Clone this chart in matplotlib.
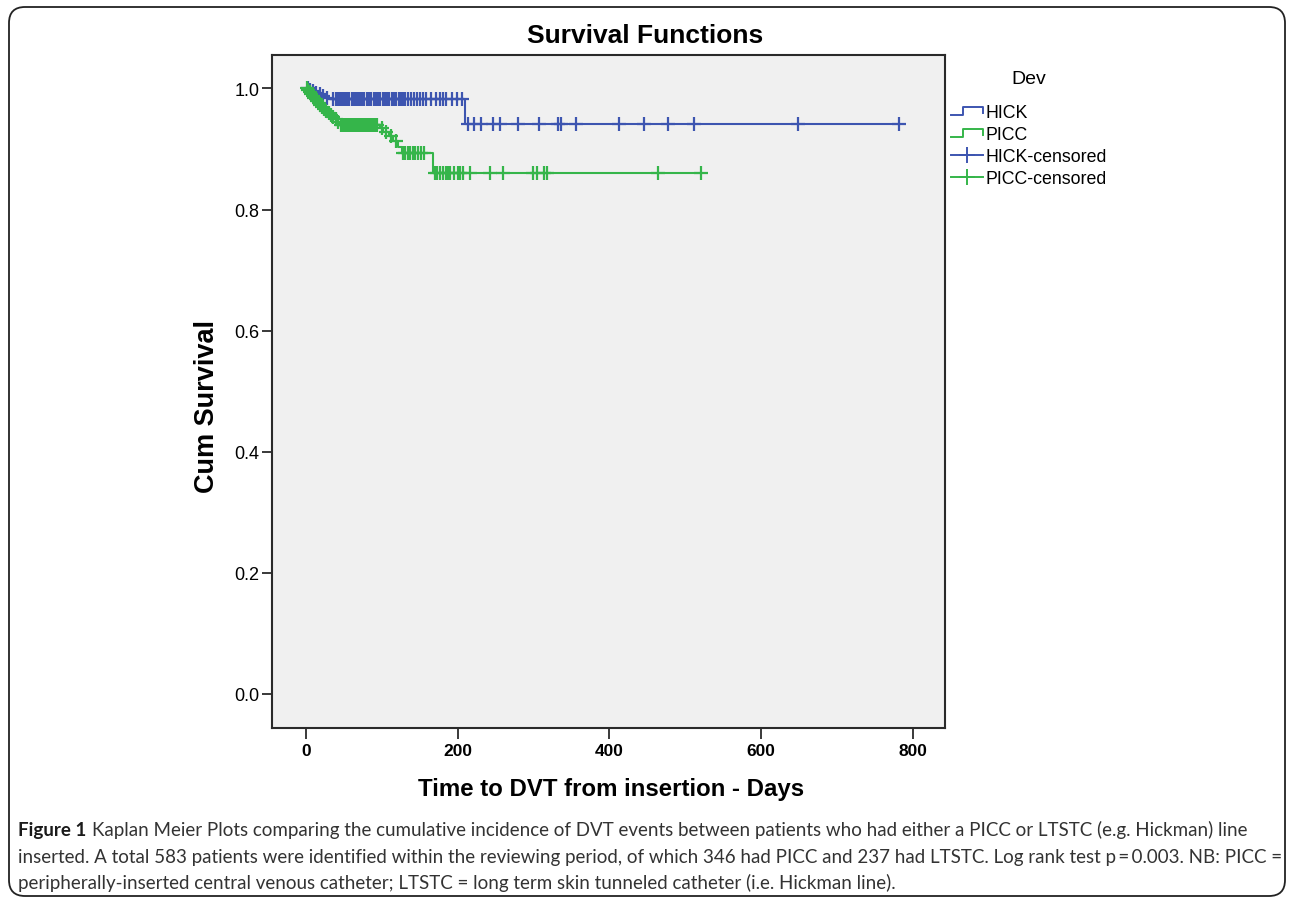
import numpy as np
import matplotlib
matplotlib.use("Agg")
import matplotlib.pyplot as plt
from matplotlib import font_manager
from matplotlib.lines import Line2D
from matplotlib.legend_handler import HandlerBase
from matplotlib.patches import FancyBboxPatch
from matplotlib.transforms import IdentityTransform

# ---------------- data ----------------
group_names = ["HICK", "PICC"]

hick_event_days = [0, 3, 7, 11, 15, 20, 26, 33, 210]
hick_event_surv = [1.000, 0.998, 0.996, 0.993, 0.991, 0.988, 0.985, 0.982, 0.941]
hick_censor_days = [2, 5, 9, 13, 18, 23, 28,
                    36, 39, 41, 44, 46, 49, 52, 54, 57, 60, 63, 66, 68, 71, 74, 77,
                    80, 83, 86, 89, 92, 95, 98, 101, 104, 107, 110, 113, 116, 119,
                    122, 125, 128, 131, 134, 138, 142, 146, 150, 154, 158, 165, 172,
                    176, 181, 185, 192, 199, 205,
                    214, 222, 231, 246, 256, 279, 307, 332, 336, 356, 412, 446, 477,
                    512, 648, 782]

picc_event_days = [0, 2, 4, 6, 8, 10, 12, 14, 16, 18, 20, 23, 26, 29, 32, 35, 38, 41, 44,
                   97, 102, 110, 115, 121, 126, 168]
picc_event_surv = [1.000, 0.997, 0.994, 0.991, 0.988, 0.985, 0.982, 0.979, 0.976, 0.972,
                   0.969, 0.966, 0.963, 0.960, 0.957, 0.953, 0.949, 0.945, 0.939,
                   0.934, 0.928, 0.921, 0.913, 0.903, 0.893, 0.861]
picc_censor_days = [1, 3, 5, 7, 9, 11, 13, 15, 17, 19, 21, 24, 27, 30, 33, 36, 39, 42,
                    46, 48, 50, 52, 54, 56, 58, 60, 62, 64, 66, 68, 70, 72, 74, 76, 78,
                    80, 82, 84, 86, 88, 90, 92, 94,
                    100, 106, 112, 118,
                    128, 131, 134, 137, 141, 144, 148, 152, 155,
                    170, 173, 176, 180, 184, 187, 190, 195, 200, 203, 207, 216, 242,
                    259, 299, 304, 314, 317, 464, 521]

x_ticks = [0, 200, 400, 600, 800]
y_ticks = [0.0, 0.2, 0.4, 0.6, 0.8, 1.0]

title_text = "Survival Functions"
xlabel_text = "Time to DVT from insertion - Days"
ylabel_text = "Cum Survival"
legend_title = "Dev"
legend_labels = ["HICK", "PICC", "HICK-censored", "PICC-censored"]

caption_lines = [
    [("Figure 1", "bold"), ("Kaplan Meier Plots comparing the cumulative incidence of DVT events between patients who had either a PICC or LTSTC (e.g. Hickman) line", "normal")],
    [("inserted. A total 583 patients were identified within the reviewing period, of which 346 had PICC and 237 had LTSTC. Log rank test p\u2009=\u20090.003. NB: PICC =", "normal")],
    [("peripherally-inserted central venous catheter; LTSTC = long term skin tunneled catheter (i.e. Hickman line).", "normal")],
]
caption_targets = [1257, 1262, 1000]

# ---------------- styling ----------------
W, H = 1292, 903
DPI = 100
BLUE = "#3d55b0"
GREEN = "#35b54a"
FRAME = "#2a2a2a"

names = {f.name for f in font_manager.fontManager.ttflist}
SANS = "Liberation Sans" if "Liberation Sans" in names else "DejaVu Sans"
NARROW = "Liberation Sans Narrow" if "Liberation Sans Narrow" in names else SANS
CAP = "Lato" if "Lato" in names else SANS

plt.rcParams["font.family"] = [SANS, "DejaVu Sans"]

fig = plt.figure(figsize=(W / DPI, H / DPI), dpi=DPI)


def fx(px):
    return px / W


def fy(py):
    return 1 - py / H


ax = fig.add_axes([fx(272), fy(729), fx(945) - fx(272), fy(56) - fy(729)])
ax.set_facecolor("#f0f0f0")
ax.set_xlim(-44.8, 842.2)
ax.set_ylim(-0.0562, 1.0553)


def surv_at(days, surv, t):
    idx = np.searchsorted(np.asarray(days), t, side="right") - 1
    return np.asarray(surv)[idx]


groups = [
    (hick_event_days, hick_event_surv, hick_censor_days, BLUE),
    (picc_event_days, picc_event_surv, picc_censor_days, GREEN),
]
for days, surv, cens, col in groups:
    end = max(max(cens), max(days))
    xs = list(days) + [end]
    ys = list(surv) + [surv[-1]]
    ax.step(xs, ys, where="post", color=col, lw=1.5, zorder=3)
for days, surv, cens, col in groups:
    cy = surv_at(days, surv, np.asarray(cens))
    ax.plot(cens, cy, ls="none", marker="+", markersize=9.5, markeredgewidth=1.6,
            color=col, zorder=4)

ax.set_xticks(x_ticks)
ax.set_xticklabels([str(v) for v in x_ticks], fontsize=12.5, fontweight="bold",
                   family=[NARROW, "DejaVu Sans"])
ax.set_yticks(y_ticks)
ax.set_yticklabels([f"{v:.1f}" for v in y_ticks], fontsize=13)
ax.tick_params(axis="x", direction="out", length=8, width=1.3, color=FRAME, pad=3)
ax.tick_params(axis="y", direction="out", length=7.5, width=1.3, color=FRAME, pad=1.5)
for s in ax.spines.values():
    s.set_color(FRAME)
    s.set_linewidth(1.5)

fig.text(fx(645), fy(36), title_text, ha="center", va="center", fontsize=19,
         fontweight="bold")
fig.text(fx(611), fy(790), xlabel_text, ha="center", va="center", fontsize=17.3,
         fontweight="bold")
fig.text(fx(207), fy(407), ylabel_text, ha="center", va="center", rotation=90,
         fontsize=19.5, fontweight="bold")


# ---------------- legend ----------------
class StepHandler(HandlerBase):
    def create_artists(self, legend, orig_handle, xdescent, ydescent, width, height,
                       fontsize, trans):
        x0 = -xdescent
        y0 = -ydescent
        xs = [x0, x0 + 0.38 * width, x0 + 0.38 * width, x0 + width, x0 + width]
        ys = [y0 + 0.15 * height, y0 + 0.15 * height, y0 + 0.8 * height,
              y0 + 0.8 * height, y0 + 0.35 * height]
        ln = Line2D(xs, ys, color=orig_handle.get_color(), lw=orig_handle.get_linewidth(),
                    transform=trans)
        return [ln]


h_hick = Line2D([], [], color=BLUE, lw=1.4)
h_picc = Line2D([], [], color=GREEN, lw=1.4)
h_hc = Line2D([], [], color=BLUE, lw=1.4, marker="+", markersize=11, markeredgewidth=1.4)
h_pc = Line2D([], [], color=GREEN, lw=1.4, marker="+", markersize=11, markeredgewidth=1.4)

fig.text(fx(1029), fy(80), legend_title, ha="center", va="center", fontsize=14)
leg = fig.legend([h_hick, h_picc, h_hc, h_pc], legend_labels,
                 loc="upper left", bbox_to_anchor=(fx(951), fy(105)),
                 frameon=False, fontsize=12.8, handlelength=1.8, handletextpad=0.15,
                 labelspacing=0.28, borderpad=0, borderaxespad=0, numpoints=1,
                 handler_map={h_hick: StepHandler(), h_picc: StepHandler()})

# ---------------- frame box ----------------
box = FancyBboxPatch((9, H - 897), 1285 - 9, 897 - 8,
                     boxstyle="round,pad=0,rounding_size=16",
                     transform=IdentityTransform(), fill=False,
                     edgecolor="#222222", linewidth=1.3)
fig.patches.append(box)

# ---------------- caption ----------------
renderer = fig.canvas.get_renderer()


def line_width(parts, size):
    total = 0.0
    for i, (txt, wt) in enumerate(parts):
        t = fig.text(0, 0, txt, fontsize=size, fontweight=wt, family=[CAP, "DejaVu Sans"])
        total += t.get_window_extent(renderer).width
        t.remove()
        if i < len(parts) - 1:
            total += size * 0.3 * DPI / 72
    return total


base = 12.0
cap_size = min(base * tgt / line_width(parts, base)
               for parts, tgt in zip(caption_lines, caption_targets))
baselines = [836, 863, 889]
for parts, yb in zip(caption_lines, baselines):
    x = 18.0
    for i, (txt, wt) in enumerate(parts):
        col = "#1a1a1a" if wt == "bold" else "#333333"
        t = fig.text(fx(x), fy(yb), txt, fontsize=cap_size, fontweight=wt,
                     family=[CAP, "DejaVu Sans"], color=col, va="baseline", ha="left")
        x += t.get_window_extent(renderer).width + cap_size * 0.3 * DPI / 72

fig.savefig("out.png", dpi=DPI)
